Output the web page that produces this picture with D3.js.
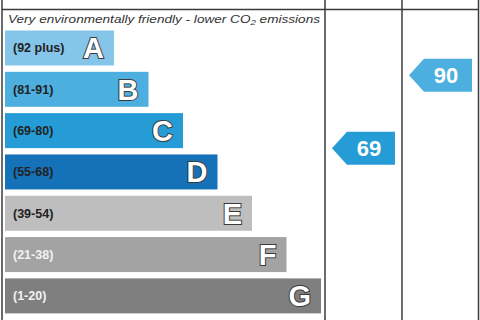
<!DOCTYPE html>
<html>
<head>
<meta charset="utf-8">
<script src="https://cdn.jsdelivr.net/npm/d3@7"></script>
<style>
  html, body { margin: 0; padding: 0; background: #fff; }
  svg { display: block; font-family: "Liberation Sans", Arial, sans-serif; }
</style>
</head>
<body>
<svg id="chart" width="480" height="320"></svg>
<script>
// rating bands, top to bottom
const bands = ['A', 'B', 'C', 'D', 'E', 'F', 'G']
const bandRanges = ['(92 plus)', '(81-91)', '(69-80)', '(55-68)', '(39-54)', '(21-38)', '(1-20)']
const bandMin = [92, 81, 69, 55, 39, 21, 1]
const bandMax = [100, 91, 80, 68, 54, 38, 20]
const bandColors = ['#85c5ea', '#4cafe0', '#269cd7', '#1672b8', '#bfbebe', '#a3a3a3', '#7f7f7f']
const labelColors = ['#222', '#222', '#222', '#222', '#222', '#f2f2f2', '#f2f2f2']

// rating columns
const columns = ['Current', 'Potential']
const scores = [69, 90]

const svg = d3.select('#chart')
const line = '#3a3a3a'

const y = d3.scaleBand().domain(bands).range([30.5, 313.4]).paddingInner(0.153).paddingOuter(0)
const barEnd = d3.scaleLinear().domain([0, bands.length - 1]).range([114, 321])
const colX = d3.scaleBand().domain(columns).range([325, 479])

// header labels (cut off at the top, as in the source)
svg.selectAll('text.head')
  .data(columns)
  .enter().append('text')
  .attr('class', 'head')
  .attr('x', d => colX(d) + colX.bandwidth() / 2)
  .attr('y', -0.5)
  .attr('text-anchor', 'middle')
  .style('font-size', '12px')
  .style('font-weight', 'bold')
  .style('fill', '#555')
  .text(d => d)

// top / bottom captions
svg.append('text')
  .attr('x', 8).attr('y', 22.5)
  .attr('textLength', 312).attr('lengthAdjust', 'spacingAndGlyphs')
  .style('font-size', '10.5px').style('font-style', 'italic').style('fill', '#333')
  .html('Very environmentally friendly - lower CO<tspan dy="2.5" style="font-size:7.5px">2</tspan><tspan dy="-2.5"> emissions</tspan>')

svg.append('text')
  .attr('x', 8).attr('y', 327.5)
  .attr('textLength', 312).attr('lengthAdjust', 'spacingAndGlyphs')
  .style('font-size', '10.5px').style('font-style', 'italic').style('fill', '#333')
  .html('Not environmentally friendly - higher CO<tspan dy="2.5" style="font-size:7.5px">2</tspan><tspan dy="-2.5"> emissions</tspan>')

// bars
const g = svg.selectAll('g.band')
  .data(bands)
  .enter().append('g')
  .attr('class', 'band')

g.append('rect')
  .attr('x', 5)
  .attr('y', d => y(d))
  .attr('width', (d, i) => barEnd(i) - 5)
  .attr('height', y.bandwidth())
  .attr('fill', (d, i) => bandColors[i])

g.append('text')
  .attr('x', 13)
  .attr('y', d => y(d) + y.bandwidth() / 2 + 4.5)
  .style('font-size', '12.5px')
  .style('font-weight', 'bold')
  .style('fill', (d, i) => labelColors[i])
  .text((d, i) => bandRanges[i])

g.append('text')
  .attr('x', (d, i) => barEnd(i) - 10)
  .attr('y', d => y(d) + y.bandwidth() / 2 + 10.5)
  .attr('text-anchor', 'end')
  .style('font-size', '29px')
  .style('font-weight', 'bold')
  .style('fill', '#fff')
  .style('stroke', '#3a3a3a')
  .style('stroke-width', '2px')
  .style('paint-order', 'stroke')
  .text(d => d)

// grid lines
svg.append('line').attr('x1', 2).attr('x2', 479).attr('y1', 9.5).attr('y2', 9.5)
  .attr('stroke', line).attr('stroke-width', 1.5)
svg.append('line').attr('x1', 2).attr('x2', 2).attr('y1', 0).attr('y2', 320)
  .attr('stroke', line).attr('stroke-width', 1.5)
svg.append('line').attr('x1', 478.5).attr('x2', 478.5).attr('y1', 0).attr('y2', 320)
  .attr('stroke', line).attr('stroke-width', 1.5)
svg.selectAll('line.col')
  .data(columns)
  .enter().append('line')
  .attr('class', 'col')
  .attr('x1', d => colX(d)).attr('x2', d => colX(d))
  .attr('y1', 0).attr('y2', 320)
  .attr('stroke', line).attr('stroke-width', 1.5)

// score arrows, placed inside their band by score
const scoreY = function (s) {
  const i = bands.findIndex((b, k) => s >= bandMin[k] && s <= bandMax[k])
  return { i: i, cy: y(bands[i]) + (bandMax[i] - s) / (bandMax[i] - bandMin[i]) * y.bandwidth() }
}

const arrows = svg.selectAll('g.arrow')
  .data(columns)
  .enter().append('g')
  .attr('class', 'arrow')

arrows.append('path')
  .attr('d', (d, k) => {
    const p = scoreY(scores[k])
    const x0 = colX(d) + 7, x1 = colX(d) + 70, h = 16.5
    return `M${x0},${p.cy} L${x0 + 15},${p.cy - h} L${x1},${p.cy - h} L${x1},${p.cy + h} L${x0 + 15},${p.cy + h} Z`
  })
  .attr('fill', (d, k) => bandColors[scoreY(scores[k]).i])

arrows.append('text')
  .attr('x', d => colX(d) + 44)
  .attr('y', (d, k) => scoreY(scores[k]).cy + 8)
  .attr('text-anchor', 'middle')
  .style('font-size', '22px')
  .style('font-weight', 'bold')
  .style('fill', '#fff')
  .text((d, k) => scores[k])
</script>
</body>
</html>
